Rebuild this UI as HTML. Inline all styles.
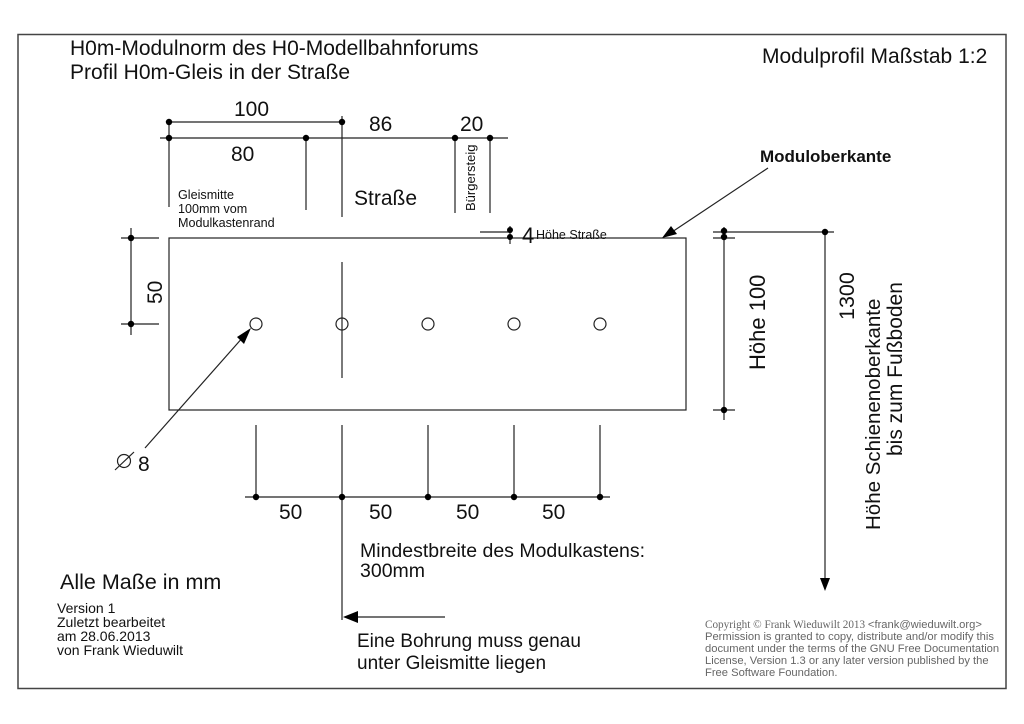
<!DOCTYPE html>
<html><head><meta charset="utf-8"><style>
html,body{margin:0;padding:0;background:#fff;}
svg{display:block;}
text{font-family:"Liberation Sans",sans-serif;fill:#111;}
</style></head><body>
<svg width="1024" height="724" viewBox="0 0 1024 724" xmlns="http://www.w3.org/2000/svg">
<rect x="18" y="34.5" width="988" height="654" fill="none" stroke="#444" stroke-width="1.5"/>
<g stroke="#222" stroke-width="1.2" fill="none">
<rect x="169" y="238" width="517" height="172"/>
<line x1="169" y1="122" x2="342" y2="122"/>
<line x1="160" y1="138" x2="508" y2="138"/>
<line x1="169" y1="122" x2="169" y2="207"/>
<line x1="306" y1="138" x2="306" y2="210"/>
<line x1="342" y1="116" x2="342" y2="217"/>
<line x1="455" y1="138" x2="455" y2="213"/>
<line x1="490" y1="138" x2="490" y2="213"/>
<line x1="342" y1="262" x2="342" y2="378"/>
<line x1="131" y1="228" x2="131" y2="335"/>
<line x1="121" y1="238" x2="159" y2="238"/>
<line x1="121" y1="324" x2="159" y2="324"/>
<line x1="480" y1="232" x2="512" y2="232"/>
<line x1="510" y1="226" x2="510" y2="244"/>
<line x1="256" y1="425" x2="256" y2="497"/>
<line x1="342" y1="425" x2="342" y2="620"/>
<line x1="428" y1="425" x2="428" y2="497"/>
<line x1="514" y1="425" x2="514" y2="497"/>
<line x1="600" y1="425" x2="600" y2="497"/>
<line x1="245" y1="497" x2="610" y2="497"/>
<line x1="358" y1="617" x2="445" y2="617"/>
<line x1="724" y1="227" x2="724" y2="420"/>
<line x1="713" y1="232" x2="834" y2="232"/>
<line x1="713" y1="238" x2="735" y2="238"/>
<line x1="713" y1="410" x2="735" y2="410"/>
<line x1="825" y1="232" x2="825" y2="578"/>
<line x1="768" y1="168" x2="672" y2="232"/>
<line x1="145" y1="448" x2="244" y2="336"/>
<line x1="115" y1="470" x2="134" y2="452"/>
<circle cx="256" cy="324" r="6"/><circle cx="342" cy="324" r="6"/><circle cx="428" cy="324" r="6"/><circle cx="514" cy="324" r="6"/><circle cx="600" cy="324" r="6"/>
<circle cx="124" cy="461" r="6.5"/>
</g>
<g fill="#000">
<circle cx="169" cy="122" r="3.2"/><circle cx="342" cy="122" r="3.2"/>
<circle cx="169" cy="138" r="3.2"/><circle cx="306" cy="138" r="3.2"/><circle cx="455" cy="138" r="3.2"/><circle cx="490" cy="138" r="3.2"/>
<circle cx="131" cy="238" r="3.2"/><circle cx="131" cy="324" r="3.2"/>
<circle cx="510" cy="230" r="3"/><circle cx="510" cy="237" r="3"/>
<circle cx="256" cy="497" r="3.2"/><circle cx="342" cy="497" r="3.2"/><circle cx="428" cy="497" r="3.2"/><circle cx="514" cy="497" r="3.2"/><circle cx="600" cy="497" r="3.2"/>
<circle cx="724" cy="231" r="3.2"/><circle cx="724" cy="237" r="3.2"/><circle cx="724" cy="410" r="3.2"/><circle cx="825" cy="232" r="3.2"/>
<polygon points="820,578 830,578 825,591"/>
<polygon points="343,617 358,611 358,623"/>
<polygon points="662,238 671,226 677,234"/>
<polygon points="251,328 244,344 237,337"/>
</g>
<text x="70" y="55" font-size="21">H0m-Modulnorm des H0-Modellbahnforums</text>
<text x="70" y="79" font-size="21">Profil H0m-Gleis in der Straße</text>
<text x="762" y="63" font-size="21">Modulprofil Maßstab 1:2</text>
<text x="234" y="116" font-size="21">100</text>
<text x="369" y="131" font-size="21">86</text>
<text x="460" y="131" font-size="21">20</text>
<text x="231" y="161" font-size="21">80</text>
<text x="178" y="199" font-size="12.6">Gleismitte</text>
<text x="178" y="213" font-size="12.6">100mm vom</text>
<text x="178" y="227" font-size="12.6">Modulkastenrand</text>
<text x="354" y="205" font-size="21">Straße</text>
<text transform="translate(475,211) rotate(-90)" font-size="13">Bürgersteig</text>
<text x="522" y="243" font-size="22">4</text>
<text x="536" y="239" font-size="12.5">Höhe Straße</text>
<text x="760" y="162" font-size="17" font-weight="bold">Moduloberkante</text>
<text transform="translate(162,304) rotate(-90)" font-size="21">50</text>
<text x="138" y="471" font-size="21">8</text>
<text x="279" y="519" font-size="21">50</text>
<text x="369" y="519" font-size="21">50</text>
<text x="456" y="519" font-size="21">50</text>
<text x="542" y="519" font-size="21">50</text>
<text x="360" y="557" font-size="19.5">Mindestbreite des Modulkastens:</text>
<text x="360" y="577" font-size="19.5">300mm</text>
<text x="357" y="647" font-size="19">Eine Bohrung muss genau</text>
<text x="357" y="669" font-size="19">unter  Gleismitte liegen</text>
<text transform="translate(765,370) rotate(-90)" font-size="22">Höhe 100</text>
<text transform="translate(854,320) rotate(-90)" font-size="21.5">1300</text>
<text transform="translate(880,530) rotate(-90)" font-size="20.5">Höhe Schienenoberkante</text>
<text transform="translate(902,456) rotate(-90)" font-size="21">bis zum Fußboden</text>
<text x="60" y="589" font-size="21.5">Alle Maße in mm</text>
<text x="57" y="613" font-size="14">Version 1</text>
<text x="57" y="627" font-size="14">Zuletzt bearbeitet</text>
<text x="57" y="641" font-size="14">am 28.06.2013</text>
<text x="57" y="655" font-size="14">von Frank Wieduwilt</text>
<g font-size="11.2">
<text x="705" y="628" style="fill:#666;font-family:'Liberation Serif',serif">Copyright © Frank Wieduwilt 2013 <tspan style="font-family:'Liberation Sans',sans-serif">&lt;frank@wieduwilt.org&gt;</tspan></text>
<text x="705" y="640" style="fill:#666">Permission is granted to copy, distribute and/or modify this</text>
<text x="705" y="652" style="fill:#666">document under the terms of the GNU Free Documentation</text>
<text x="705" y="664" style="fill:#666">License, Version 1.3 or any later version published by the</text>
<text x="705" y="676" style="fill:#666">Free Software Foundation.</text>
</g>
</svg>
</body></html>
